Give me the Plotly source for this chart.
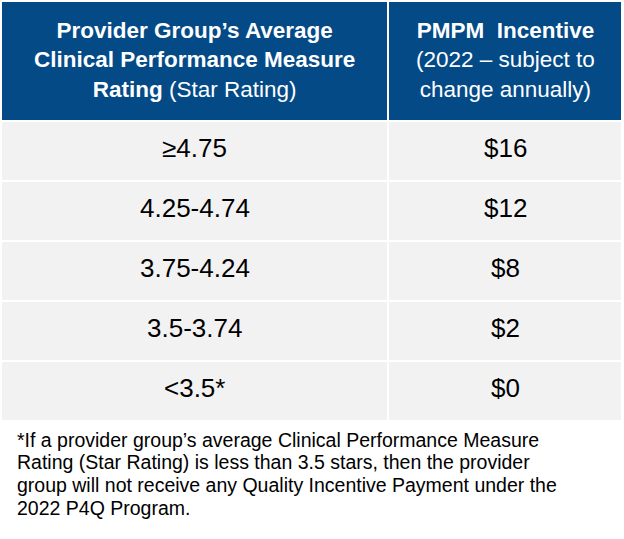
import plotly.graph_objects as go

# ---- data ----
header_labels = [
    "<b>Provider Group’s Average</b><br><b>Clinical Performance Measure</b><br><b>Rating</b> (Star Rating)",
    "<b>PMPM  Incentive</b><br>(2022 – subject to<br>change annually)",
]
ratings = ["≥4.75", "4.25-4.74", "3.75-4.24", "3.5-3.74", "<3.5*"]
incentives = ["$16", "$12", "$8", "$2", "$0"]
footnote_lines = [
    "*If a provider group’s average Clinical Performance Measure",
    "Rating (Star Rating) is less than 3.5 stars, then the provider",
    "group will not receive any Quality Incentive Payment under the",
    "2022 P4Q Program.",
]

# ---- layout constants ----
W, H = 624, 539
HEADER_BLUE = "#044A87"
CELL_GRAY = "#F2F2F2"
FONT = "Liberation Sans, Arial, sans-serif"

table_left, table_top = 2, 2
col_widths = [385, 232]
gap = 2
header_h = 118
row_h = 58
foot_x, foot_first_mid, foot_step = 15, 439.5, 22.8

columns = [ratings, incentives]

shapes, annotations = [], []
header_bottom = table_top + header_h
x0 = table_left
for ci, w in enumerate(col_widths):
    x1 = x0 + w
    xc = (x0 + x1) / 2
    shapes.append(dict(type="rect", xref="x", yref="y", x0=x0, x1=x1,
                       y0=table_top, y1=header_bottom,
                       fillcolor=HEADER_BLUE, line_width=0, layer="below"))
    annotations.append(dict(x=xc, y=(table_top + header_bottom) / 2 - 1,
                            xref="x", yref="y", text=header_labels[ci],
                            showarrow=False, align="center",
                            xanchor="center", yanchor="middle",
                            font=dict(family=FONT, size=22.5, color="white")))
    for ri, val in enumerate(columns[ci]):
        y0 = header_bottom + gap + ri * (row_h + gap)
        y1 = y0 + row_h
        shapes.append(dict(type="rect", xref="x", yref="y", x0=x0, x1=x1,
                           y0=y0, y1=y1, fillcolor=CELL_GRAY,
                           line_width=0, layer="below"))
        annotations.append(dict(x=xc, y=(y0 + y1) / 2 - 3.5, xref="x", yref="y",
                                text=val, showarrow=False,
                                xanchor="center", yanchor="middle",
                                font=dict(family=FONT, size=26, color="black")))
    x0 = x1 + gap

for li, line in enumerate(footnote_lines):
    annotations.append(dict(x=foot_x, y=foot_first_mid + li * foot_step,
                            xref="x", yref="y", text=line, showarrow=False,
                            xanchor="left", yanchor="middle", align="left",
                            font=dict(family=FONT, size=19.5, color="black")))

fig = go.Figure()
fig.update_layout(
    width=W, height=H,
    margin=dict(l=0, r=0, t=0, b=0),
    paper_bgcolor="white", plot_bgcolor="white",
    xaxis=dict(range=[0, W], visible=False, fixedrange=True),
    yaxis=dict(range=[H, 0], visible=False, fixedrange=True),
    shapes=shapes, annotations=annotations,
    showlegend=False,
)

fig.write_html(
    "out.html",
    config={"displayModeBar": False, "staticPlot": True},
    post_script="document.body.style.margin='0';document.body.style.overflow='hidden';",
)
